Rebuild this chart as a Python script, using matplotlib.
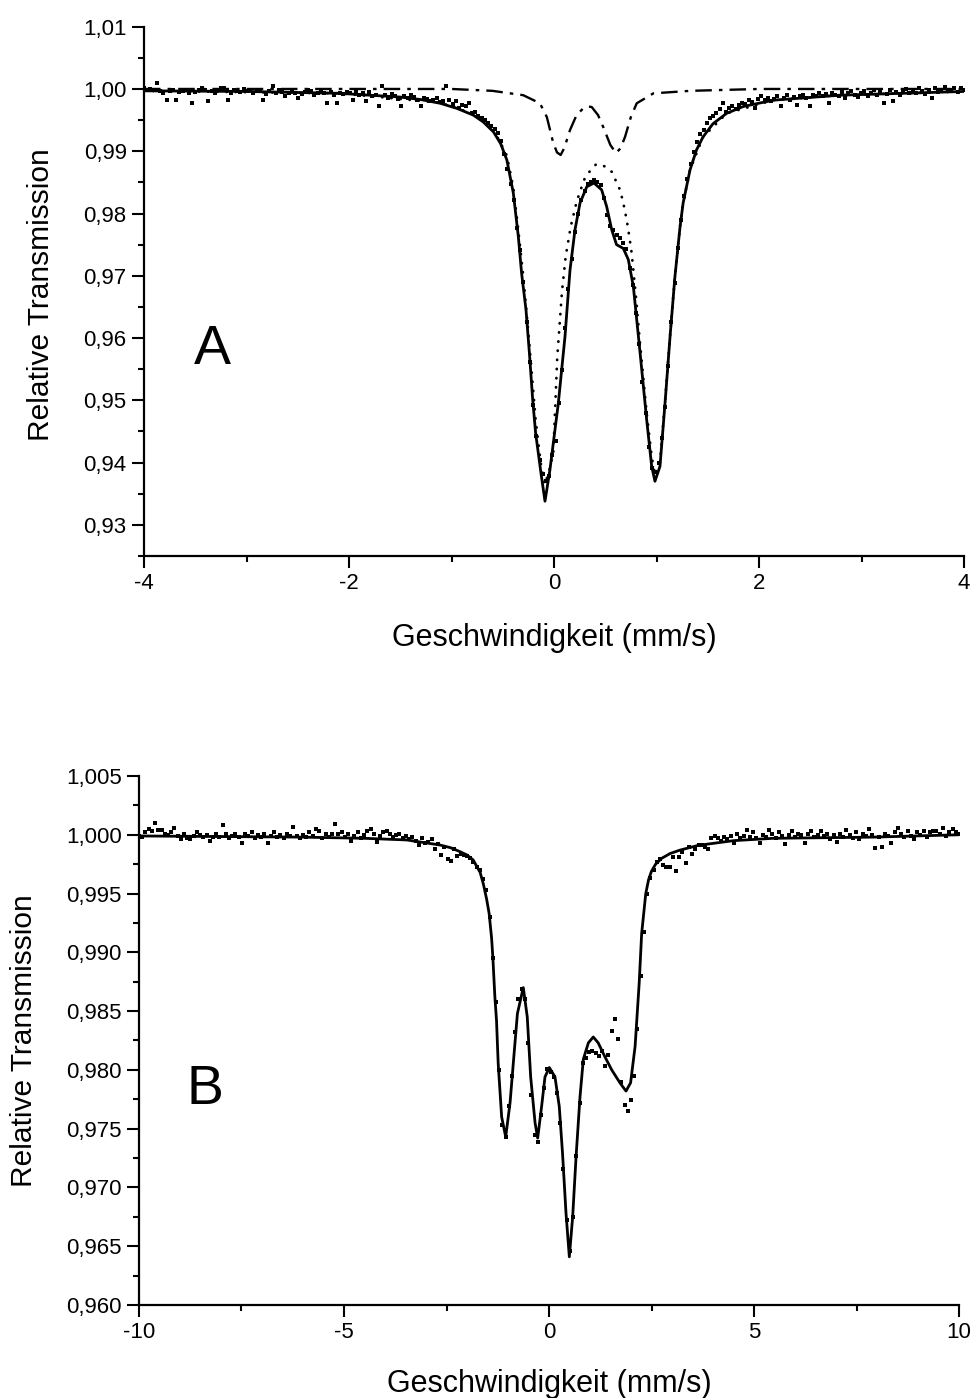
import matplotlib
matplotlib.use("Agg")
import matplotlib.pyplot as plt
import numpy as np
from matplotlib.ticker import FixedLocator, MultipleLocator


# ---------------- panel A: velocity range -4 ... 4 mm/s ----------------
A_V_RANGE = (-4.0, 4.0)
A_N_CHANNELS = 256
A_DATA = [
    1.0001, 0.9999, 1.0000, 0.9998, 1.0010, 0.9997, 0.9993, 0.9983, 0.9996, 0.9998, 0.9983, 0.9995, 0.9996, 0.9999, 0.9994, 0.9977,
    0.9995, 0.9998, 1.0001, 0.9999, 0.9980, 0.9996, 0.9994, 0.9998, 1.0002, 1.0001, 0.9982, 0.9993, 0.9998, 0.9996, 0.9995, 1.0000,
    0.9997, 0.9999, 0.9994, 0.9996, 0.9999, 0.9983, 0.9992, 0.9996, 1.0004, 0.9993, 0.9998, 0.9995, 0.9989, 0.9993, 0.9997, 0.9994,
    0.9985, 0.9992, 0.9995, 0.9999, 0.9996, 0.9990, 0.9994, 0.9997, 0.9993, 0.9977, 0.9995, 0.9990, 0.9978, 0.9994, 0.9992, 0.9995,
    0.9993, 0.9982, 0.9996, 0.9990, 0.9993, 0.9980, 0.9995, 0.9989, 0.9991, 0.9973, 1.0004, 0.9990, 0.9986, 0.9992, 0.9989, 0.9984,
    0.9972, 0.9988, 0.9985, 0.9990, 0.9987, 0.9983, 0.9972, 0.9986, 0.9984, 0.9980, 0.9982, 0.9985, 0.9979, 0.9981, 1.0004, 0.9982,
    0.9976, 0.9980, 0.9970, 0.9974, 0.9972, 0.9977, 0.9961, 0.9963, 0.9956, 0.9953, 0.9950, 0.9946, 0.9940, 0.9935, 0.9929, 0.9917,
    0.9896, 0.9871, 0.9847, 0.9822, 0.9776, 0.9741, 0.9690, 0.9625, 0.9562, 0.9493, 0.9443, 0.9404, 0.9382, 0.9370, 0.9378, 0.9412,
    0.9435, 0.9495, 0.9548, 0.9616, 0.9678, 0.9727, 0.9770, 0.9800, 0.9822, 0.9836, 0.9847, 0.9850, 0.9854, 0.9850, 0.9845, 0.9825,
    0.9798, 0.9780, 0.9773, 0.9766, 0.9760, 0.9752, 0.9743, 0.9712, 0.9685, 0.9640, 0.9590, 0.9530, 0.9480, 0.9425, 0.9392, 0.9385,
    0.9400, 0.9440, 0.9490, 0.9555, 0.9625, 0.9688, 0.9745, 0.9790, 0.9828, 0.9855, 0.9880, 0.9898, 0.9915, 0.9928, 0.9934, 0.9946,
    0.9953, 0.9956, 0.9962, 0.9968, 0.9977, 0.9963, 0.9970, 0.9972, 0.9968, 0.9975, 0.9978, 0.9976, 0.9982, 0.9979, 0.9969, 0.9984,
    0.9988, 0.9983, 0.9986, 0.9980, 0.9984, 0.9988, 0.9972, 0.9986, 0.9990, 0.9983, 0.9987, 0.9974, 0.9989, 0.9991, 0.9985, 0.9973,
    0.9990, 0.9988, 0.9993, 0.9988, 0.9992, 0.9978, 0.9994, 0.9991, 0.9989, 0.9995, 0.9986, 0.9993, 0.9997, 0.9990, 0.9987, 0.9994,
    0.9996, 0.9989, 0.9993, 0.9998, 0.9991, 0.9995, 0.9977, 0.9992, 0.9999, 0.9980, 0.9995, 0.9991, 0.9997, 1.0000, 0.9994, 0.9998,
    0.9993, 1.0001, 0.9996, 0.9992, 0.9998, 0.9985, 1.0002, 0.9995, 0.9998, 1.0003, 0.9996, 0.9999, 1.0001, 0.9995, 1.0002, 0.9999,
]

# total fit (solid)
A_FIT_V = [-4.0, -3.0, -2.09, -1.5, -1.3, -1.11, -0.95, -0.787, -0.69, -0.59, -0.52, -0.46, -0.397,
           -0.348, -0.316, -0.273, -0.24, -0.208, -0.179, -0.153, -0.127, -0.088, -0.04, 0.042,
           0.107, 0.156, 0.205, 0.254, 0.32, 0.39, 0.465, 0.514, 0.563, 0.61, 0.676, 0.725,
           0.774, 0.84, 0.904, 0.953, 0.985, 1.034, 1.083, 1.132, 1.18, 1.23, 1.26, 1.327,
           1.39, 1.454, 1.55, 1.685, 1.85, 2.14, 2.79, 4.0]
A_FIT_T = [0.9997, 0.9996, 0.9993, 0.9987, 0.9983, 0.9977, 0.9969, 0.9958, 0.9947, 0.9931, 0.9912, 0.9886, 0.9833,
           0.9763, 0.9704, 0.9645, 0.9576, 0.9501, 0.9447, 0.9415, 0.9383, 0.9338, 0.9388, 0.9495,
           0.9602, 0.9709, 0.9774, 0.9817, 0.9843, 0.9849, 0.9838, 0.9811, 0.9774, 0.9750, 0.9744, 0.9726,
           0.9683, 0.9576, 0.9469, 0.9394, 0.9370, 0.9394, 0.9495, 0.9602, 0.9699, 0.9779, 0.9817, 0.9870,
           0.9902, 0.9923, 0.9944, 0.9961, 0.9972, 0.9982, 0.9990, 0.9996]

# main doublet (dotted)
A_SUB1_V = [-4.0, -2.09, -1.11, -0.787, -0.59, -0.46, -0.397, -0.348, -0.30, -0.24, -0.18, -0.13,
            -0.09, -0.05, -0.007, 0.032, 0.078, 0.114, 0.163, 0.221, 0.293, 0.335, 0.41, 0.49,
            0.563, 0.644, 0.676, 0.709, 0.735, 0.758, 0.80, 0.84, 0.904, 0.953, 0.985, 1.034,
            1.083, 1.132, 1.18, 1.23, 1.26, 1.327, 1.454, 1.685, 2.14, 2.79, 4.0]
A_SUB1_T = [0.9997, 0.9993, 0.9978, 0.9960, 0.9935, 0.9893, 0.9842, 0.9773, 0.9700, 0.9590, 0.9470, 0.9400,
            0.9365, 0.9385, 0.9415, 0.9570, 0.9675, 0.9731, 0.9779, 0.9819, 0.9854, 0.9865, 0.9879, 0.9876,
            0.9867, 0.9838, 0.9817, 0.9790, 0.9763, 0.9736, 0.9665, 0.9590, 0.9480, 0.9410, 0.9380, 0.9400,
            0.9497, 0.9603, 0.9700, 0.9780, 0.9817, 0.9870, 0.9923, 0.9961, 0.9982, 0.9990, 0.9996]

# small doublet (dash-dot)
A_SUB2_V = [-4.0, -1.0, -0.6, -0.3, -0.137, -0.07, -0.007, 0.03, 0.065, 0.10, 0.156, 0.22, 0.286,
            0.33, 0.368, 0.43, 0.48, 0.55, 0.605, 0.65, 0.693, 0.75, 0.807, 0.97, 1.33, 2.0, 4.0]
A_SUB2_T = [1.0000, 1.0000, 0.9997, 0.9990, 0.9977, 0.9955, 0.9913, 0.9898, 0.9894, 0.9905, 0.9934, 0.9958, 0.9969,
            0.9972, 0.9971, 0.9958, 0.9939, 0.9910, 0.9897, 0.9905, 0.9923, 0.9955, 0.9977, 0.9993, 0.9997, 1.0000, 1.0000]

A_XTICKS = [-4, -2, 0, 2, 4]
A_XTICKLABELS = ["-4", "-2", "0", "2", "4"]
A_YTICKS = [0.93, 0.94, 0.95, 0.96, 0.97, 0.98, 0.99, 1.00, 1.01]
A_YTICKLABELS = ["0,93", "0,94", "0,95", "0,96", "0,97", "0,98", "0,99", "1,00", "1,01"]

# ---------------- panel B: velocity range -10 ... 10 mm/s ----------------
B_V_RANGE = (-10.0, 10.0)
B_N_CHANNELS = 256
B_DATA = [
    0.9999, 0.9998, 1.0002, 1.0005, 1.0003, 1.0010, 1.0004, 1.0004, 1.0001, 1.0000, 1.0002, 1.0006, 0.9999, 0.9996, 1.0001, 0.9997,
    0.9996, 0.9999, 1.0002, 1.0000, 0.9998, 1.0000, 0.9995, 0.9998, 1.0001, 0.9998, 1.0008, 1.0001, 0.9997, 0.9999, 1.0001, 0.9998,
    0.9993, 1.0001, 0.9999, 1.0002, 0.9997, 1.0000, 0.9998, 1.0001, 0.9993, 0.9999, 1.0002, 0.9998, 1.0000, 0.9997, 1.0001, 0.9999,
    1.0007, 0.9999, 0.9997, 1.0000, 0.9998, 1.0002, 0.9999, 1.0005, 1.0003, 0.9997, 1.0001, 0.9998, 1.0001, 1.0009, 1.0001, 1.0002,
    0.9998, 1.0001, 0.9995, 0.9999, 1.0002, 0.9997, 1.0000, 1.0003, 1.0005, 1.0001, 0.9994, 0.9999, 1.0002, 1.0003, 1.0001, 0.9998,
    1.0000, 1.0001, 0.9997, 0.9999, 0.9996, 0.9998, 0.9995, 0.9991, 0.9997, 0.9993, 0.9994, 0.9996, 0.9988, 0.9992, 0.9983, 0.9990,
    0.9979, 0.9978, 0.9988, 0.9982, 0.9984, 0.9983, 0.9982, 0.9980, 0.9977, 0.9973, 0.9970, 0.9962, 0.9953, 0.9930, 0.9895, 0.9858,
    0.9800, 0.9753, 0.9743, 0.9769, 0.9795, 0.9832, 0.9860, 0.9869, 0.9860, 0.9823, 0.9779, 0.9745, 0.9739, 0.9762, 0.9785, 0.9801,
    0.9798, 0.9794, 0.9780, 0.9755, 0.9716, 0.9672, 0.9646, 0.9675, 0.9727, 0.9772, 0.9806, 0.9810, 0.9815, 0.9816, 0.9814, 0.9812,
    0.9816, 0.9803, 0.9813, 0.9833, 0.9843, 0.9826, 0.9790, 0.9770, 0.9765, 0.9774, 0.9795, 0.9835, 0.9880, 0.9917, 0.9950, 0.9963,
    0.9970, 0.9977, 0.9979, 0.9974, 0.9973, 0.9973, 0.9981, 0.9969, 0.9981, 0.9985, 0.9976, 0.9990, 0.9984, 0.9988, 0.9991, 0.9991,
    0.9990, 0.9988, 0.9997, 0.9999, 0.9997, 0.9995, 0.9998, 0.9996, 0.9999, 0.9993, 1.0001, 0.9997, 0.9999, 1.0004, 0.9998, 1.0002,
    0.9997, 0.9993, 1.0000, 0.9998, 1.0004, 1.0001, 0.9997, 1.0002, 0.9999, 0.9992, 1.0000, 1.0003, 0.9998, 1.0001, 1.0000, 0.9993,
    1.0001, 1.0003, 0.9998, 1.0000, 1.0003, 0.9999, 1.0001, 0.9996, 1.0000, 0.9994, 1.0001, 0.9998, 1.0004, 1.0000, 0.9997, 1.0002,
    0.9996, 1.0001, 0.9999, 1.0005, 1.0000, 0.9989, 0.9998, 0.9990, 1.0001, 0.9999, 0.9993, 1.0002, 1.0006, 1.0001, 0.9998, 1.0003,
    0.9999, 0.9996, 1.0002, 1.0000, 1.0003, 0.9998, 1.0002, 1.0003, 1.0003, 1.0001, 1.0006, 0.9999, 1.0002, 1.0005, 1.0002, 1.0001,
]

B_FIT_V = [-10.0, -6.0, -4.5, -3.47, -2.66, -2.4, -2.17, -2.0, -1.85, -1.68, -1.6, -1.52, -1.46, -1.40,
           -1.37, -1.32, -1.28, -1.24, -1.155, -1.056, -0.95, -0.87, -0.77, -0.627, -0.53, -0.447,
           -0.34, -0.276, -0.18, -0.098, 0.008, 0.146, 0.25, 0.33, 0.415, 0.496, 0.577, 0.66,
           0.756, 0.837, 0.96, 1.08, 1.2, 1.366, 1.53, 1.73, 1.878, 1.99, 2.1, 2.2, 2.26, 2.36,
           2.43, 2.5, 2.6, 2.75, 2.95, 3.2, 3.64, 4.5, 5.47, 7.9, 10.0]
B_FIT_T = [0.9999, 0.9998, 0.9997, 0.99956, 0.99913, 0.99890, 0.99856, 0.99828, 0.99786, 0.9968, 0.9958, 0.9945, 0.9933, 0.9912,
           0.9896, 0.9862, 0.9842, 0.9806, 0.9760, 0.9743, 0.9772, 0.9806, 0.9848, 0.9870, 0.9845, 0.9794,
           0.9755, 0.9742, 0.9769, 0.9794, 0.9802, 0.9794, 0.9769, 0.9729, 0.9678, 0.9641, 0.9675, 0.9726,
           0.9777, 0.9809, 0.9823, 0.9828, 0.9823, 0.9811, 0.9800, 0.9789, 0.9782, 0.9789, 0.9820, 0.9874, 0.9916, 0.9950,
           0.9962, 0.9969, 0.9975, 0.9980, 0.9984, 0.9987, 0.9991, 0.9995, 0.9997, 0.9998, 1.0000]

B_XTICKS = [-10, -5, 0, 5, 10]
B_XTICKLABELS = ["-10", "-5", "0", "5", "10"]
B_YTICKS = [0.960, 0.965, 0.970, 0.975, 0.980, 0.985, 0.990, 0.995, 1.000, 1.005]
B_YTICKLABELS = ["0,960", "0,965", "0,970", "0,975", "0,980", "0,985", "0,990", "0,995", "1,000", "1,005"]

XLABEL = "Geschwindigkeit (mm/s)"
YLABEL = "Relative Transmission"

W, H = 973, 1398


def style_axes(ax, xticks, xticklabels, xminor, yticks, yticklabels, yminor):
    for side in ("top", "right"):
        ax.spines[side].set_visible(False)
    for side in ("left", "bottom"):
        ax.spines[side].set_linewidth(1.6)
    ax.xaxis.set_major_locator(FixedLocator(xticks))
    ax.set_xticklabels(xticklabels)
    ax.xaxis.set_minor_locator(MultipleLocator(xminor))
    ax.yaxis.set_major_locator(FixedLocator(yticks))
    ax.set_yticklabels(yticklabels)
    ax.yaxis.set_minor_locator(MultipleLocator(yminor))
    ax.tick_params(which="major", direction="out", length=8.5, width=1.5, labelsize=16, pad=4)
    ax.tick_params(which="minor", direction="out", length=4.5, width=1.5)
    ax.set_xlabel(XLABEL, fontsize=22)
    ax.set_ylabel(YLABEL, fontsize=21.5)


def main():
    plt.rcParams["font.family"] = ["Liberation Sans", "DejaVu Sans"]

    fig = plt.figure(figsize=(W / 100, H / 100), dpi=100)
    ax_a = fig.add_axes([144 / W, 1 - 556 / H, 820 / W, 529.3 / H])
    ax_b = fig.add_axes([139 / W, 1 - 1305 / H, 820 / W, 529 / H])

    # panel A
    va = np.linspace(A_V_RANGE[0], A_V_RANGE[1], A_N_CHANNELS)
    ax_a.plot(A_SUB2_V, A_SUB2_T, color="black", lw=1.7, dashes=(7, 3, 1.5, 3))
    ax_a.plot(A_SUB1_V, A_SUB1_T, color="black", lw=2.0, dashes=(0.1, 3.2),
              dash_capstyle="round")
    ax_a.plot(va, A_DATA, ls="none", marker="s", ms=2.8, color="black", mew=0)
    ax_a.plot(A_FIT_V, A_FIT_T, color="black", lw=2.0)
    ax_a.set_xlim(*A_V_RANGE)
    ax_a.set_ylim(0.925, 1.01)
    style_axes(ax_a, A_XTICKS, A_XTICKLABELS, 1, A_YTICKS, A_YTICKLABELS, 0.005)
    ax_a.yaxis.set_label_coords(-0.108, 0.493)
    ax_a.xaxis.set_label_coords(0.5, -0.127)
    ax_a.text(0.083, 0.389, "A", transform=ax_a.transAxes, fontsize=40,
              ha="center", va="center")

    # panel B
    vb = np.linspace(B_V_RANGE[0], B_V_RANGE[1], B_N_CHANNELS)
    ax_b.plot(vb, B_DATA, ls="none", marker="s", ms=2.8, color="black", mew=0)
    ax_b.plot(B_FIT_V, B_FIT_T, color="black", lw=2.0)
    ax_b.set_xlim(*B_V_RANGE)
    ax_b.set_ylim(0.960, 1.005)
    style_axes(ax_b, B_XTICKS, B_XTICKLABELS, 2.5, B_YTICKS, B_YTICKLABELS, 0.0025)
    ax_b.yaxis.set_label_coords(-0.123, 0.50)
    ax_b.xaxis.set_label_coords(0.5, -0.121)
    ax_b.text(0.0805, 0.406, "B", transform=ax_b.transAxes, fontsize=40,
              ha="center", va="center")

    fig.savefig("out.png", dpi=100)


if __name__ == "__main__":
    main()
